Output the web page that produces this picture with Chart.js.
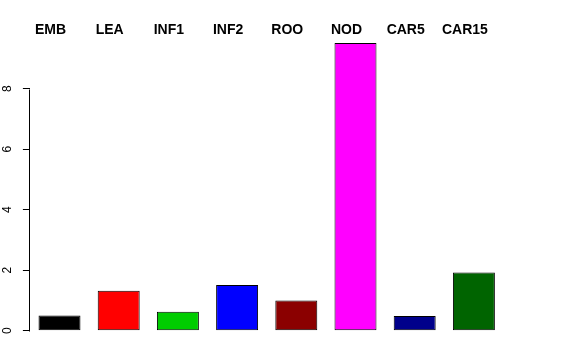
<!DOCTYPE html>
<html>
<head>
<meta charset="utf-8">
<script src="https://cdn.jsdelivr.net/npm/chart.js@4/dist/chart.umd.min.js"></script>
<style>
  html, body { margin: 0; padding: 0; background: #fff; }
  canvas { display: block; }
</style>
</head>
<body>
<canvas id="my-chart" width="576" height="360"></canvas>
<script>
// categories and values
const categories = ['EMB', 'LEA', 'INF1', 'INF2', 'ROO', 'NOD', 'CAR5', 'CAR15'];
const values = [0.50, 1.32, 0.63, 1.51, 1.00, 9.51, 0.49, 1.92];
const barColors = ['#000000', '#FF0000', '#00CD00', '#0000FF', '#8B0000', '#FF00FF', '#00008B', '#006400'];
const yTicks = [0, 2, 4, 6, 8];

// labels written above the plot, like R's barplot names on top
const topLabels = {
  id: 'topLabels',
  afterDraw(chart) {
    const ctx = chart.ctx;
    const x = chart.scales.x;
    ctx.save();
    ctx.fillStyle = '#000';
    ctx.font = 'bold 14px "Liberation Sans", Arial, sans-serif';
    ctx.textAlign = 'center';
    ctx.textBaseline = 'middle';
    categories.forEach((name, i) => {
      ctx.fillText(name, x.getPixelForValue(i) - 9, 30);
    });
    ctx.restore();
  }
};

// y axis line only from first to last tick
const yAxisLine = {
  id: 'yAxisLine',
  afterDraw(chart) {
    const ctx = chart.ctx;
    const y = chart.scales.y;
    const left = Math.round(chart.chartArea.left) - 0.5;
    ctx.save();
    ctx.strokeStyle = '#000';
    ctx.lineWidth = 1;
    ctx.beginPath();
    ctx.moveTo(left, Math.round(y.getPixelForValue(yTicks[0])) + 0.5);
    ctx.lineTo(left, Math.round(y.getPixelForValue(yTicks[yTicks.length - 1])) + 0.5);
    ctx.stroke();
    ctx.restore();
  }
};

const ctx = document.getElementById('my-chart').getContext('2d');
const chart = new Chart(ctx, {
  type: 'bar',
  data: {
    labels: categories,
    datasets: [
      {
        data: values,
        backgroundColor: barColors,
        borderColor: '#000',
        borderWidth: 1,
        borderSkipped: false,
        barPercentage: 0.709,
        categoryPercentage: 1
      }
    ]
  },
  options: {
    responsive: false,
    animation: false,
    layout: {
      padding: { left: 0, right: 72.5, top: 28.2, bottom: 29.3 }
    },
    plugins: {
      legend: { display: false },
      tooltip: { enabled: false }
    },
    scales: {
      x: {
        display: false
      },
      y: {
        min: 0,
        max: 10,
        afterBuildTicks(scale) {
          scale.ticks = yTicks.map(v => ({ value: v }));
        },
        afterFit(scale) {
          scale.width = 29.9;
        },
        border: { display: false },
        grid: {
          drawOnChartArea: false,
          drawTicks: true,
          tickLength: 7,
          color: '#000'
        },
        ticks: {
          minRotation: 90,
          maxRotation: 90,
          crossAlign: 'center',
          padding: 12,
          color: '#000',
          font: { family: '"Liberation Sans", Arial, sans-serif', size: 12 }
        }
      }
    }
  },
  plugins: [topLabels, yAxisLine]
});
</script>
</body>
</html>
